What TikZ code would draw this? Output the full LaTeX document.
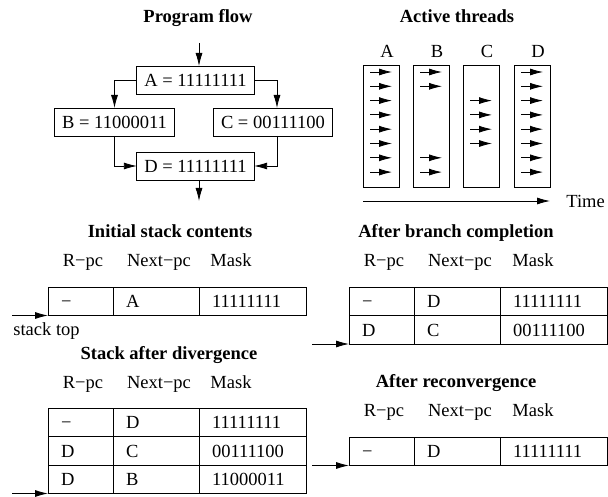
\documentclass[tikz,border=0pt]{standalone}
\usepackage{fontspec}
\setmainfont{Liberation Serif}
\usepackage{tikz}
\usetikzlibrary{arrows.meta}
\usetikzlibrary{positioning}

\tikzset{
	tip/.style={-{Latex[length=13pt,width=7pt]}},
	ttl/.style={font=\fontsize{18.5}{22}\selectfont\bfseries, anchor=base},
	hdr/.style={font=\fontsize{18.5}{22}\selectfont, anchor=base},
	flowbox/.style={draw, outer sep=0pt, minimum height=28pt, inner xsep=7.5pt},
	thread/.style={draw, outer sep=0pt, minimum width=36pt, minimum height=122pt},
	cell/.style={draw, outer sep=0pt, minimum height=28.5pt, inner xsep=13pt, align=left, text height=13pt, text depth=0pt},
	rpc/.style={cell, text width=39pt},
	npc/.style={cell, text width=60pt},
	msk/.style={cell, text width=81pt},
}

\begin{document}
\begin{tikzpicture}[x=1pt, y=1pt, line width=0.8pt, every node/.style={font=\fontsize{18.5}{22}\selectfont}]
		\useasboundingbox (0,0) rectangle (608,-497);
		%
		%PROGRAM FLOW
		\node[ttl] (pftitle) at (198,-23) {Program flow};
		\node[flowbox] (A) at (195.5,-80) {A = 11111111};
		\node[flowbox] (B) at (114.5,-122) {B = 11000011};
		\node[flowbox] (C) at (273,-122) {C = 00111100};
		\node[flowbox] (D) at (195.5,-166) {D = 11111111};
		%
		%Pfeile
		\coordinate (fin) at (199,-43);
		\coordinate (fout) at (199,-201);
		\draw[tip] (fin) -- (fin |- A.north);
		\draw[tip] (A.west) -| (B.north);
		\draw[tip] (A.east) -| ([xshift=4pt]C.north);
		\draw[tip] (B.south) |- (D.west);
		\draw[tip] ([xshift=4pt]C.south) |- (D.east);
		\draw[tip] (fout |- D.south) -- (fout);
		%
		%%%%%%%%%%%%%%%%%%%%%%%%%%%%%%%%%%%%%%
		%ACTIVE THREADS
		\node[ttl] (attitle) at (457,-23) {Active threads};
		\node[thread] (thrA) at (381,-126) {};
		\node[thread] (thrB) at (431,-126) {};
		\node[thread] (thrC) at (481,-126) {};
		\node[thread] (thrD) at (532,-126) {};
		\node[above=3.5pt of thrA.north, xshift=6pt] (labA) {A};
		\node[above=3.5pt of thrB.north, xshift=6pt] (labB) {B};
		\node[above=3.5pt of thrC.north, xshift=6pt] (labC) {C};
		\node[above=3.5pt of thrD.north, xshift=6pt] (labD) {D};
		%
		%Threads
		\foreach \r in {1,...,8}
			\draw[tip] ([shift={(-11,{-7-14.3*(\r-1)})}]thrA.north) -- ++(22,0);
		\foreach \r in {1,2,7,8}
			\draw[tip] ([shift={(-11,{-7-14.3*(\r-1)})}]thrB.north) -- ++(22,0);
		\foreach \r in {3,...,6}
			\draw[tip] ([shift={(-11,{-7-14.3*(\r-1)})}]thrC.north) -- ++(22,0);
		\foreach \r in {1,...,8}
			\draw[tip] ([shift={(-11,{-7-14.3*(\r-1)})}]thrD.north) -- ++(22,0);
		%
		%Zeitachse
		\coordinate (t0) at (363,-201);
		\node[anchor=west, inner sep=0pt] (time) at (566,-201) {Time};
		\draw[tip] (t0) -- ([xshift=-16pt]time.west);
		%
		%%%%%%%%%%%%%%%%%%%%%%%%%%%%%%%%%%%%%%
		%INITIAL STACK CONTENTS
		\coordinate (T1) at (48,-287);
		\node[ttl] at ([shift={(122,49)}]T1) {Initial stack contents};
		\node[hdr] at ([shift={(35,20)}]T1) {R−pc};
		\node[hdr] at ([shift={(111,20)}]T1) {Next−pc};
		\node[hdr] at ([shift={(183,20)}]T1) {Mask};
		\node[rpc, anchor=north west] (i1r) at (T1) {−};
		\node[npc, right=0pt of i1r] (i1n) {A};
		\node[msk, right=0pt of i1n] (i1m) {11111111};
		%
		\coordinate (s1) at ([xshift=-36pt]i1r.south west);
		\draw[tip] (s1) -- (i1r.south west);
		\node[anchor=north west, inner sep=0pt, yshift=-6.5pt, xshift=1pt] (stop) at (s1) {stack top};
		%
		%%%%%%%%%%%%%%%%%%%%%%%%%%%%%%%%%%%%%%
		%AFTER BRANCH COMPLETION
		\coordinate (T2) at (349,-287);
		\node[ttl] at ([shift={(107,49)}]T2) {After branch completion};
		\node[hdr] at ([shift={(35,21)}]T2) {R−pc};
		\node[hdr] at ([shift={(111,21)}]T2) {Next−pc};
		\node[hdr] at ([shift={(184,21)}]T2) {Mask};
		\node[rpc, anchor=north west] (b1r) at (T2) {−};
		\node[npc, right=0pt of b1r] (b1n) {D};
		\node[msk, right=0pt of b1n] (b1m) {11111111};
		\node[rpc, below=0pt of b1r] (b2r) {D};
		\node[npc, right=0pt of b2r] (b2n) {C};
		\node[msk, right=0pt of b2n] (b2m) {00111100};
		%
		\coordinate (s2) at ([xshift=-37pt]b2r.south west);
		\draw[tip] (s2) -- (b2r.south west);
		%
		%%%%%%%%%%%%%%%%%%%%%%%%%%%%%%%%%%%%%%
		%STACK AFTER DIVERGENCE
		\coordinate (T3) at (48,-408);
		\node[ttl] at ([shift={(121,49)}]T3) {Stack after divergence};
		\node[hdr] at ([shift={(35,20)}]T3) {R−pc};
		\node[hdr] at ([shift={(111,20)}]T3) {Next−pc};
		\node[hdr] at ([shift={(183,20)}]T3) {Mask};
		\node[rpc, anchor=north west] (d1r) at (T3) {−};
		\node[npc, right=0pt of d1r] (d1n) {D};
		\node[msk, right=0pt of d1n] (d1m) {11111111};
		\node[rpc, below=0pt of d1r] (d2r) {D};
		\node[npc, right=0pt of d2r] (d2n) {C};
		\node[msk, right=0pt of d2n] (d2m) {00111100};
		\node[rpc, below=0pt of d2r] (d3r) {D};
		\node[npc, right=0pt of d3r] (d3n) {B};
		\node[msk, right=0pt of d3n] (d3m) {11000011};
		%
		\coordinate (s3) at ([xshift=-36pt]d3r.south west);
		\draw[tip] (s3) -- (d3r.south west);
		%
		%%%%%%%%%%%%%%%%%%%%%%%%%%%%%%%%%%%%%%
		%AFTER RECONVERGENCE
		\coordinate (T4) at (349,-437);
		\node[ttl] at ([shift={(107,50)}]T4) {After reconvergence};
		\node[hdr] at ([shift={(35,21)}]T4) {R−pc};
		\node[hdr] at ([shift={(111,21)}]T4) {Next−pc};
		\node[hdr] at ([shift={(184,21)}]T4) {Mask};
		\node[rpc, anchor=north west] (r1r) at (T4) {−};
		\node[npc, right=0pt of r1r] (r1n) {D};
		\node[msk, right=0pt of r1n] (r1m) {11111111};
		%
		\coordinate (s4) at ([xshift=-37pt]r1r.south west);
		\draw[tip] (s4) -- (r1r.south west);
	\end{tikzpicture}
\end{document}
